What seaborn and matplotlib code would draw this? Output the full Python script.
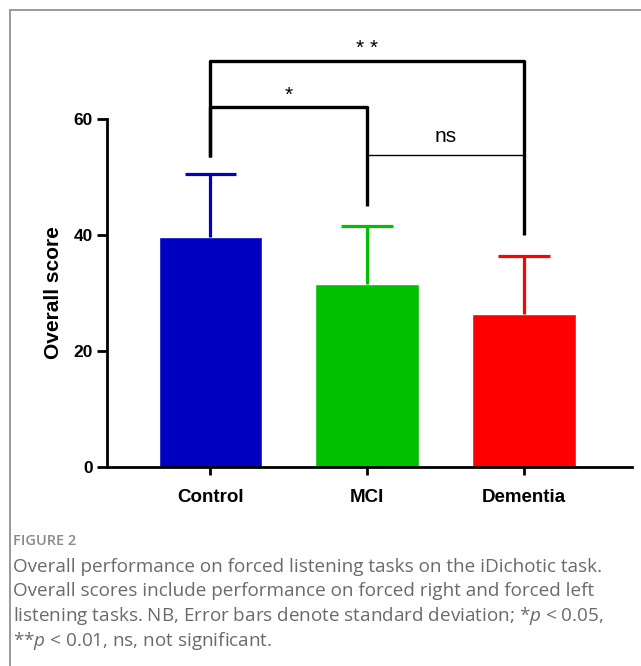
import matplotlib
matplotlib.use("Agg")
import matplotlib.pyplot as plt
import matplotlib.patches as patches
import seaborn as sns
import pandas as pd

# === data ===
groups = ["Control", "MCI", "Dementia"]
means = [39.7, 31.6, 26.4]
sds = [10.8, 10.0, 10.0]
colors = ["#0000C0", "#00C000", "#FF0000"]
yticks = [0, 20, 40, 60]
caption_head = "FIGURE 2"
caption_lines = [
    "Overall performance on forced listening tasks on the iDichotic task.",
    "Overall scores include performance on forced right and forced left",
    "listening tasks. NB, Error bars denote standard deviation; *$p$ < 0.05,",
    "**$p$ < 0.01, ns, not significant.",
]

sns.set_theme(style="white")
plt.rcParams["font.family"] = ["Liberation Sans", "DejaVu Sans"]
plt.rcParams["text.color"] = "black"
plt.rcParams["axes.labelcolor"] = "black"
plt.rcParams["xtick.color"] = "black"
plt.rcParams["ytick.color"] = "black"
plt.rcParams["mathtext.fontset"] = "custom"
plt.rcParams["mathtext.it"] = "Open Sans:italic"
plt.rcParams["mathtext.rm"] = "Open Sans"

W, H = 641, 666
fig = plt.figure(figsize=(W / 100, H / 100), dpi=100)

# axes in pixel terms: x 107..632, y(0)=467, y(60)=119
ax = fig.add_axes([107 / W, 1 - 467 / H, (632 - 107) / W, (467 - 119) / H])

df = pd.DataFrame({"group": groups, "score": means})
sns.barplot(data=df, x="group", y="score", hue="group", palette=colors,
            width=0.66, errorbar=None, legend=False, ax=ax, saturation=1)

# upper-only error bars (SD)
for i, (m, s, c) in enumerate(zip(means, sds, colors)):
    ax.vlines(i, m, m + s, color=c, lw=2.3, zorder=1)
    ax.hlines(m + s, i - 0.165, i + 0.165, color=c, lw=2.3, zorder=1)

ax.set_xlim(-0.66, 2.69)
ax.set_ylim(0, 60)
ax.set_yticks(yticks)
ax.set_xlabel("")
ax.set_ylabel("Overall score", fontsize=15, fontweight="bold", labelpad=8)
for sp in ["top", "right"]:
    ax.spines[sp].set_visible(False)
for sp in ["left", "bottom"]:
    ax.spines[sp].set_linewidth(2)
    ax.spines[sp].set_color("black")
ax.tick_params(axis="y", direction="out", length=7, width=2, labelsize=12.5, pad=3)
ax.tick_params(axis="x", direction="out", length=6, width=2, labelsize=13.5, pad=10)
ax.tick_params(left=True, bottom=True)
for lab in ax.get_xticklabels() + ax.get_yticklabels():
    lab.set_fontweight("bold")

# significance brackets
kw = dict(color="black", lw=2.4, clip_on=False, solid_capstyle="butt")
ax.plot([0, 0, 2, 2], [53.4, 70, 70, 40], **kw)
ax.plot([0, 0, 1, 1], [53.4, 62, 62, 45], **kw)
ax.plot([1, 2], [53.8, 53.8], color="black", lw=1, clip_on=False)
ax.text(1, 70.6, "* *", ha="center", va="bottom", fontsize=15, clip_on=False)
ax.text(0.5, 62.4, "*", ha="center", va="bottom", fontsize=15, clip_on=False)
ax.text(1.5, 55.3, "ns", ha="center", va="bottom", fontsize=15, clip_on=False)

# frame around figure panel
fig.patches.append(patches.Rectangle((9.5 / W, -0.1), 1.2, 1.1 - 9.5 / H,
                                     transform=fig.transFigure, fill=False,
                                     edgecolor="#9a9a9a", lw=1.4))

# caption
fig.text(13 / W, 1 - 541 / H, caption_head, fontsize=10.5, color="#8a8a8a",
         family=["Open Sans", "DejaVu Sans"], fontweight="semibold", va="center")
for k, line in enumerate(caption_lines):
    fig.text(13 / W, 1 - (567 + k * 24.5) / H, line, fontsize=13.6,
             color="#6a6a6a", family=["Open Sans", "DejaVu Sans"], va="center")

fig.savefig("out.png", dpi=100)
